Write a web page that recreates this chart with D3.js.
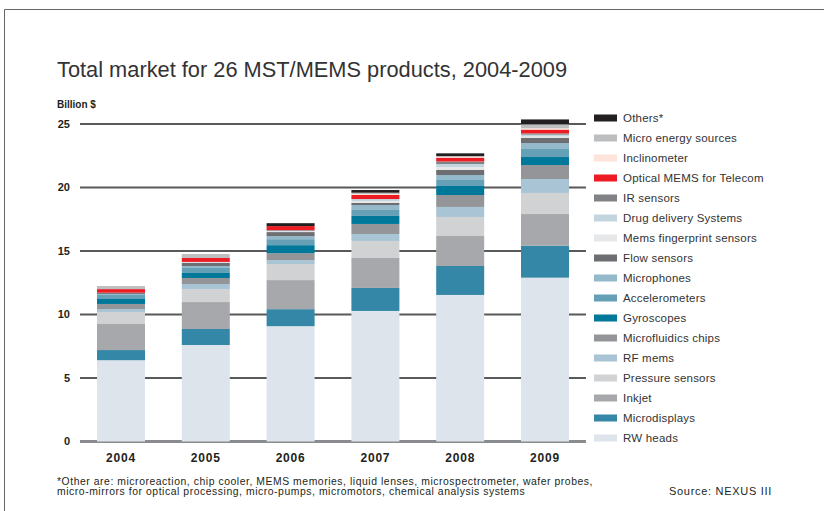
<!DOCTYPE html>
<html lang="en">
<head>
  <meta charset="UTF-8">
  <title>Total market for 26 MST/MEMS products</title>
  <script src="https://d3js.org/d3.v7.min.js"></script>
  <style>
    body { margin: 0; background: #fff; }
    svg { display: block; font-family: "Liberation Sans", Arial, sans-serif; }
    .title { font-size: 21.8px; fill: #333; }
    .unit { font-size: 10px; font-weight: bold; fill: #231f20; }
    .tick-label { font-size: 11px; font-weight: bold; fill: #231f20; }
    .year { font-size: 12px; font-weight: bold; fill: #231f20; letter-spacing: 0.8px; }
    .legend text { font-size: 11.5px; fill: #333; letter-spacing: 0.2px; }
    .note { font-size: 10.4px; fill: #231f20; letter-spacing: 0.55px; }
    .source { font-size: 11px; fill: #231f20; letter-spacing: 0.7px; }
  </style>
</head>
<body>
  <svg width="824" height="511"></svg>

  <script>
    const years = ["2004", "2005", "2006", "2007", "2008", "2009"];

    // stacking order, bottom to top
    const products = [
      "RW heads", "Microdisplays", "Inkjet", "Pressure sensors", "RF mems",
      "Microfluidics chips", "Gyroscopes", "Accelerometers", "Microphones",
      "Flow sensors", "Mems fingerprint sensors", "Drug delivery Systems",
      "IR sensors", "Optical MEMS for Telecom", "Inclinometer",
      "Micro energy sources", "Others*"
    ];
    const colors = [
      "#dde4ec", "#3487a6", "#a7a8ab", "#d1d2d4", "#a9c4d4",
      "#939598", "#007899", "#65a0b7", "#93b9cb",
      "#6d6e71", "#e6e7e8", "#c3d6e0",
      "#808285", "#ed1c24", "#fde3da",
      "#bcbec0", "#231f20"
    ];

    // billion $, one array per product, 2004..2009
    const rwHeads       = [6.40, 7.60, 9.08, 10.28, 11.54, 12.90];
    const microdisplays = [0.80, 1.26, 1.34, 1.81, 2.28, 2.52];
    const inkjet        = [2.05, 2.12, 2.29, 2.36, 2.36, 2.49];
    const pressure      = [0.95, 1.02, 1.25, 1.34, 1.50, 1.66];
    const rfMems        = [0.23, 0.40, 0.32, 0.55, 0.79, 1.10];
    const microfluidics = [0.40, 0.47, 0.55, 0.79, 0.94, 1.10];
    const gyroscopes    = [0.39, 0.40, 0.63, 0.63, 0.71, 0.63];
    const accelerometers= [0.32, 0.39, 0.47, 0.47, 0.47, 0.63];
    const microphones   = [0.08, 0.16, 0.24, 0.39, 0.39, 0.47];
    const flowSensors   = [0.10, 0.24, 0.32, 0.16, 0.40, 0.40];
    const fingerprint   = [0.00, 0.04, 0.05, 0.15, 0.23, 0.12];
    const drugDelivery  = [0.00, 0.04, 0.05, 0.16, 0.24, 0.14];
    const irSensors     = [0.00, 0.00, 0.05, 0.00, 0.20, 0.10];
    const opticalMems   = [0.28, 0.31, 0.32, 0.32, 0.30, 0.30];
    const inclinometer  = [0.00, 0.00, 0.00, 0.08, 0.05, 0.10];
    const microEnergy   = [0.24, 0.31, 0.00, 0.10, 0.08, 0.32];
    const others        = [0.00, 0.00, 0.23, 0.21, 0.21, 0.38];

    const series = [
      rwHeads, microdisplays, inkjet, pressure, rfMems, microfluidics,
      gyroscopes, accelerometers, microphones, flowSensors, fingerprint,
      drugDelivery, irSensors, opticalMems, inclinometer, microEnergy, others
    ];

    const yTicks = [0, 5, 10, 15, 20, 25];

    // table for d3.stack
    const table = years.map((yr, i) => {
      const row = { year: yr };
      products.forEach((p, k) => { row[p] = series[k][i]; });
      return row;
    });

    const svg = d3.select("svg");

    // frame lines
    svg.append("line").attr("x1", 4.5).attr("x2", 4.5).attr("y1", 9.5).attr("y2", 511)
        .attr("stroke", "#666").attr("stroke-width", 1);
    svg.append("line").attr("x1", 4.5).attr("x2", 824).attr("y1", 9.5).attr("y2", 9.5)
        .attr("stroke", "#666").attr("stroke-width", 1);

    svg.append("text").attr("class", "title").attr("x", 57).attr("y", 77)
        .text("Total market for 26 MST/MEMS products, 2004-2009");
    svg.append("text").attr("class", "unit").attr("x", 57).attr("y", 108)
        .text("Billion $");

    const x = d3.scaleBand()
        .domain(years)
        .range([78.6, 587.4])
        .paddingInner(0.434)
        .paddingOuter(0.217);

    const y = d3.scaleLinear()
        .domain([0, 25])
        .range([441.5, 124]);

    // gridlines
    const grid = svg.append("g");
    grid.selectAll("line")
        .data(yTicks)
        .enter().append("line")
        .attr("x1", 80).attr("x2", 586)
        .attr("y1", d => y(d)).attr("y2", d => y(d))
        .attr("stroke", d => d === 0 ? "#8a8b8e" : "#58595b")
        .attr("stroke-width", d => d === 0 ? 3 : 2);

    grid.selectAll("text")
        .data(yTicks)
        .enter().append("text")
        .attr("class", "tick-label")
        .attr("x", 70)
        .attr("y", d => y(d))
        .attr("dy", "0.35em")
        .attr("text-anchor", "end")
        .text(d => d);

    // stacked bars
    const stacked = d3.stack().keys(products)(table);

    svg.append("g")
      .selectAll("g")
      .data(stacked)
      .enter().append("g")
        .attr("fill", (d, i) => colors[i])
      .selectAll("rect")
      .data(d => d)
      .enter().append("rect")
        .attr("x", d => x(d.data.year))
        .attr("width", x.bandwidth())
        .attr("y", d => y(d[1]))
        .attr("height", d => Math.max(0, y(d[0]) - y(d[1])));

    // year labels
    svg.append("g")
      .selectAll("text")
      .data(years)
      .enter().append("text")
        .attr("class", "year")
        .attr("x", d => x(d) + x.bandwidth() / 2)
        .attr("y", 462)
        .attr("text-anchor", "middle")
        .text(d => d);

    // legend, top entry is the last product
    const legendItems = products.map((p, i) => ({ name: p, color: colors[i] })).reverse();
    const legend = svg.append("g").attr("class", "legend")
      .selectAll("g")
      .data(legendItems)
      .enter().append("g")
        .attr("transform", (d, i) => `translate(594,${118 + i * 20})`);

    legend.append("rect")
        .attr("x", 0).attr("y", -3.5)
        .attr("width", 23).attr("height", 7)
        .attr("fill", d => d.color);

    legend.append("text")
        .attr("x", 29).attr("dy", "0.36em")
        .text(d => d.name);

    // footnote and source
    svg.append("text").attr("class", "note").attr("x", 57).attr("y", 484.5)
        .text("*Other are: microreaction, chip cooler, MEMS memories, liquid lenses, microspectrometer, wafer probes,");
    svg.append("text").attr("class", "note").attr("x", 57).attr("y", 495)
        .text("micro-mirrors for optical processing, micro-pumps, micromotors, chemical analysis systems");
    svg.append("text").attr("class", "source").attr("x", 772).attr("y", 495)
        .attr("text-anchor", "end")
        .text("Source: NEXUS III");
  </script>
</body>
</html>
